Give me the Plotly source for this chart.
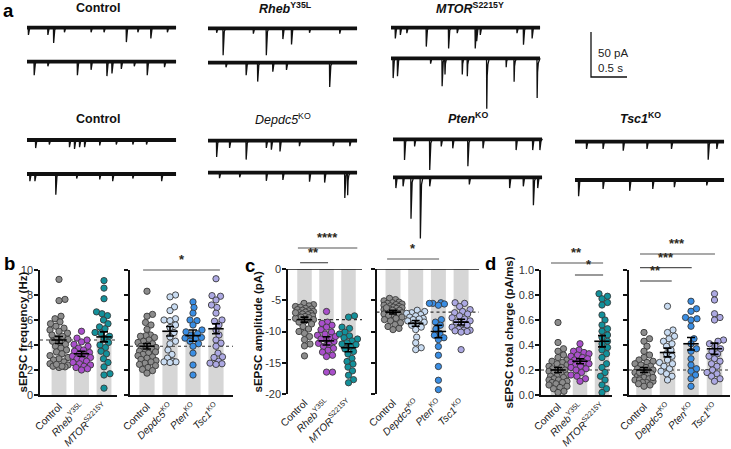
import plotly.graph_objects as go

W, H = 731, 449
FONT = "Liberation Sans, Arial, sans-serif"

# ---------------- DATA ----------------
# panel a: spontaneous events (time in s, amplitude in pA)
ev_ctrl1_top_t = [0.02, 0.29, 0.37, 0.52, 0.89, 1.07, 1.38, 1.54, 1.72, 1.95]
ev_ctrl1_top_a = [8, 8, 17, 5, 5, 5, 16, 5, 12, 5]
ev_ctrl1_bot_t = [0.10, 0.29, 0.70, 0.89, 1.11, 1.18, 1.31, 1.49, 1.67, 1.91]
ev_ctrl1_bot_a = [15, 5, 15, 9, 16, 13, 8, 5, 15, 6]
ev_rheb_top_t = [0.12, 0.21, 0.63, 0.81, 1.04, 1.16, 1.41, 1.83]
ev_rheb_top_a = [5, 30, 6, 30, 12, 18, 5, 6]
ev_rheb_bot_t = [0.25, 0.53, 0.69, 0.90, 1.09, 1.69]
ev_rheb_bot_a = [5, 14, 21, 10, 8, 27]
ev_mtor_top_t = [0.06, 0.13, 0.22, 0.49, 0.80, 0.92, 1.17, 1.19, 1.24, 1.75, 1.84, 1.96]
ev_mtor_top_a = [12, 8, 6, 21, 23, 6, 23, 15, 8, 6, 19, 12]
ev_mtor_bot_t = [0.03, 0.09, 0.55, 0.71, 0.75, 0.99, 1.06, 1.33, 1.60, 1.71, 2.03]
ev_mtor_bot_a = [22, 20, 6, 31, 18, 18, 20, 56, 10, 26, 44]
ev_ctrl2_top_t = [0.12, 0.31, 0.59, 0.66, 0.73, 0.80, 1.01, 1.24, 1.47, 1.66]
ev_ctrl2_top_a = [9, 5, 8, 10, 8, 8, 6, 5, 5, 5]
ev_ctrl2_bot_t = [0.04, 0.11, 0.40, 0.69, 1.01, 1.19, 1.47, 1.87]
ev_ctrl2_bot_a = [8, 8, 23, 5, 6, 8, 5, 8]
ev_depdc5_top_t = [0.12, 0.30, 0.53, 0.81, 0.88, 1.00, 1.27, 1.74, 1.97]
ev_depdc5_top_a = [18, 8, 21, 8, 10, 12, 6, 6, 6]
ev_depdc5_bot_t = [0.16, 0.44, 0.81, 1.04, 1.41, 1.62, 1.90, 1.94]
ev_depdc5_bot_a = [6, 5, 9, 8, 10, 11, 28, 25]
ev_pten_top_t = [0.16, 0.30, 0.51, 0.67, 0.83, 1.04, 1.25, 1.71, 1.94, 2.04]
ev_pten_top_a = [23, 8, 34, 8, 10, 30, 10, 12, 12, 12]
ev_pten_bot_t = [0.04, 0.14, 0.25, 0.38, 0.51, 1.06, 1.62, 1.81, 1.95, 2.01]
ev_pten_bot_a = [12, 10, 46, 68, 10, 8, 12, 10, 31, 12]
ev_tsc1_top_t = [0.16, 0.39, 0.67, 1.00, 1.34, 1.85, 1.97]
ev_tsc1_top_a = [8, 8, 10, 8, 8, 20, 8]
ev_tsc1_bot_t = [0.05, 0.39, 0.76, 1.08, 1.38, 1.83]
ev_tsc1_bot_a = [18, 10, 12, 10, 8, 6]

labels_left = ["Control", "<i>Rheb</i><sup>Y35L</sup>", "<i>MTOR</i><sup>S2215Y</sup>"]
labels_right = ["Control", "<i>Depdc5</i><sup>KO</sup>", "<i>Pten</i><sup>KO</sup>", "<i>Tsc1</i><sup>KO</sup>"]

# panel b: sEPSC frequency (Hz)
freq_ctrl_l = [9.25, 7.65, 7.55, 6.3, 6.1, 5.85, 5.7, 5.5, 5.35, 5.2, 5.1, 4.95, 4.8, 4.7, 4.55, 4.45, 4.3, 4.2,
               4.05, 3.9, 3.75, 3.6, 3.45, 3.3, 3.15, 3.0, 2.9, 2.8, 2.65, 2.5, 2.4, 2.3, 2.25, 2.2, 2.3, 2.45]
freq_rheb = [5.1, 4.55, 4.4, 4.25, 4.05, 3.9, 3.75, 3.6, 3.5, 3.4, 3.3, 3.2, 3.1, 3.0, 2.9, 2.8, 2.7, 2.6, 2.5,
             2.4, 2.3, 2.2, 2.1, 2.0]
freq_mtor = [9.15, 8.55, 7.7, 6.65, 6.5, 6.35, 6.0, 5.7, 5.45, 5.3, 5.0, 4.95, 4.7, 4.55, 4.2, 4.0, 3.8, 3.5, 3.3,
             2.9, 2.6, 2.25, 1.7, 1.6, 0.55]
freq_ctrl_r = [8.3, 6.45, 6.3, 5.8, 5.6, 5.25, 4.8, 4.75, 4.7, 4.6, 4.4, 4.3, 4.2, 4.1, 4.0, 3.9, 3.8, 3.7, 3.6,
               3.5, 3.45, 3.35, 3.25, 3.15, 3.05, 2.95, 2.85, 2.75, 2.65, 2.55, 2.45, 2.35, 2.2, 2.05, 1.95, 1.75]
freq_depdc5 = [8.0, 7.85, 7.05, 6.75, 6.1, 6.0, 5.95, 5.6, 5.4, 5.0, 4.65, 4.3, 4.1, 3.6, 3.25, 2.95, 2.7, 2.65,
               2.6, 2.65]
freq_pten = [7.45, 7.0, 6.55, 6.0, 5.95, 5.6, 5.2, 5.05, 4.9, 4.8, 4.55, 4.5, 4.3, 4.1, 3.9, 3.35, 2.4, 1.6, 4.6]
freq_tsc1 = [9.3, 7.95, 7.9, 7.6, 7.2, 7.0, 6.55, 6.0, 5.9, 5.6, 5.2, 4.8, 4.4, 4.15, 3.9, 3.35, 3.05, 2.7, 2.55,
             2.5, 2.45, 3.0]
freq_mean_l = [4.4, 3.3, 4.65]
freq_sem_l = [0.28, 0.2, 0.4]
freq_mean_r = [3.9, 5.1, 4.75, 5.3]
freq_sem_r = [0.22, 0.38, 0.45, 0.4]

# panel c: sEPSC amplitude (pA)
amp_ctrl_l = [-5.5, -5.7, -5.9, -6.0, -6.1, -6.3, -6.4, -6.5, -6.6, -6.7, -6.8, -6.9, -7.0, -7.1, -7.2, -7.3, -7.4,
              -7.5, -7.6, -7.7, -7.8, -7.9, -8.1, -8.3, -8.5, -8.8, -9.2, -9.6, -10.0, -10.3, -10.8, -11.3, -12.0,
              -12.3, -13.9, -7.0]
amp_rheb = [-6.8, -8.5, -8.7, -9.0, -9.3, -9.7, -10.1, -10.4, -10.6, -11.0, -11.3, -11.6, -11.9, -12.1, -12.4,
            -12.7, -13.0, -13.3, -13.8, -14.0, -16.5, -16.5, -11.2, -10.8]
amp_mtor = [-7.5, -7.7, -9.3, -9.5, -10.1, -10.4, -10.7, -11.0, -11.2, -11.5, -11.8, -12.1, -12.4, -12.8, -13.2,
            -13.6, -14.3, -14.8, -15.2, -15.7, -16.3, -17.0, -17.7, -18.2, -12.0]
amp_ctrl_r = [-4.7, -4.9, -5.1, -5.3, -5.4, -5.5, -5.6, -5.7, -5.8, -5.9, -6.0, -6.1, -6.2, -6.3, -6.4, -6.5, -6.6,
              -6.7, -6.8, -6.9, -7.0, -7.1, -7.2, -7.3, -7.5, -7.7, -7.9, -8.1, -8.3, -8.6, -8.9, -9.2, -9.5, -9.7,
              -6.2, -6.6]
amp_depdc5 = [-6.6, -6.8, -7.0, -7.1, -7.3, -7.5, -7.7, -7.9, -8.1, -8.3, -8.5, -8.8, -9.0, -9.3, -9.7, -10.9,
              -11.8, -12.6, -12.9, -8.0]
amp_pten = [-5.4, -5.5, -5.5, -5.6, -5.8, -8.1, -8.5, -9.0, -9.6, -10.3, -10.6, -11.0, -11.3, -12.4, -13.8, -15.6,
            -17.8, -19.3]
amp_tsc1 = [-5.4, -5.5, -6.0, -6.5, -6.8, -7.0, -7.2, -7.5, -7.8, -8.0, -8.3, -8.5, -8.8, -9.0, -9.3, -9.6, -9.8,
            -9.8, -9.9, -10.0, -10.1, -12.9]
amp_mean_l = [-8.1, -11.5, -12.6]
amp_sem_l = [0.4, 0.65, 0.65]
amp_mean_r = [-6.9, -8.7, -10.0, -8.5]
amp_sem_r = [0.3, 0.45, 1.0, 0.45]

# panel d: sEPSC total charge (pA/ms)
chg_ctrl_l = [0.58, 0.42, 0.37, 0.35, 0.32, 0.30, 0.28, 0.27, 0.26, 0.25, 0.24, 0.23, 0.22, 0.21, 0.20, 0.19, 0.18,
              0.17, 0.16, 0.15, 0.15, 0.14, 0.13, 0.12, 0.12, 0.11, 0.10, 0.10, 0.09, 0.08, 0.07, 0.06, 0.05, 0.03,
              0.02, 0.20]
chg_rheb = [0.41, 0.36, 0.35, 0.34, 0.33, 0.32, 0.31, 0.30, 0.29, 0.28, 0.27, 0.26, 0.26, 0.25, 0.24, 0.23, 0.22,
            0.21, 0.20, 0.18, 0.16, 0.15, 0.13, 0.11]
chg_mtor = [0.81, 0.79, 0.77, 0.74, 0.72, 0.64, 0.60, 0.56, 0.53, 0.51, 0.48, 0.46, 0.43, 0.41, 0.38, 0.36, 0.33,
            0.30, 0.25, 0.22, 0.18, 0.15, 0.12, 0.08, 0.05, 0.02]
chg_ctrl_r = [0.50, 0.45, 0.43, 0.39, 0.35, 0.32, 0.30, 0.28, 0.27, 0.26, 0.25, 0.24, 0.23, 0.22, 0.21, 0.20, 0.20,
              0.19, 0.18, 0.17, 0.17, 0.16, 0.15, 0.15, 0.14, 0.13, 0.12, 0.12, 0.11, 0.10, 0.10, 0.09, 0.08, 0.07,
              0.18, 0.14]
chg_depdc5 = [0.71, 0.52, 0.50, 0.47, 0.45, 0.43, 0.41, 0.39, 0.36, 0.33, 0.31, 0.28, 0.26, 0.23, 0.21, 0.19, 0.17,
              0.15, 0.12, 0.25]
chg_pten = [0.75, 0.69, 0.67, 0.62, 0.61, 0.60, 0.55, 0.45, 0.41, 0.37, 0.35, 0.29, 0.24, 0.21, 0.19, 0.16, 0.13,
            0.07]
chg_tsc1 = [0.81, 0.76, 0.65, 0.62, 0.60, 0.44, 0.43, 0.41, 0.39, 0.37, 0.35, 0.33, 0.31, 0.29, 0.27, 0.25, 0.23,
            0.20, 0.18, 0.17, 0.15, 0.13, 0.11]
chg_mean_l = [0.20, 0.27, 0.43]
chg_sem_l = [0.02, 0.02, 0.045]
chg_mean_r = [0.20, 0.34, 0.41, 0.37]
chg_sem_r = [0.02, 0.035, 0.05, 0.045]

# ---------------- STYLE ----------------
C_CTRL = "#8c8c8c"
C_RHEB = "#a94fcb"
C_MTOR = "#13919b"
C_DEPDC5 = "#c9dcf2"
C_PTEN = "#3a8ee4"
C_TSC1 = "#ada9e3"
BAR = "#d6d6d6"
colors_left = [C_CTRL, C_RHEB, C_MTOR]
colors_right = [C_CTRL, C_DEPDC5, C_PTEN, C_TSC1]


def px(p):
    return p / W


def py(p):
    return 1 - p / H


fig = go.Figure()
layout = dict(template="none", width=W, height=H, margin=dict(l=0, r=0, t=0, b=0, pad=0, autoexpand=False),
              paper_bgcolor="white", plot_bgcolor="rgba(0,0,0,0)", showlegend=False,
              font=dict(family=FONT, color="#222"))
annotations = []
shapes = []

# ---------------- PANEL a ----------------
PXS = 72.0   # px per second
PXA = 0.9    # px per pA
A_BOTTOM = 245
layout["xaxis"] = dict(domain=[0, 1], range=[0, W / PXS], visible=False, fixedrange=True, automargin=False)
layout["yaxis"] = dict(domain=[py(A_BOTTOM), 1], range=[-A_BOTTOM / PXA, 0], visible=False, fixedrange=True,
                       automargin=False)


def trace_line(x0px, base_px, times, amps, dur=2.07):
    t0 = x0px / PXS
    b = -base_px / PXA
    # noisy baseline band
    fig.add_trace(go.Scatter(x=[t0, t0 + dur], y=[b, b], mode="lines", line=dict(color="#111", width=3.8),
                             xaxis="x", yaxis="y", hoverinfo="skip"))
    xs, ys = [t0], [b]
    for t, a in sorted(zip(times, amps)):
        xs += [t0 + t - 0.003, t0 + t, t0 + t + 0.006, t0 + t + 0.016, t0 + t + 0.035]
        ys += [b, b - a, b - a * 0.35, b - a * 0.12, b]
    xs.append(t0 + dur)
    ys.append(b)
    fig.add_trace(go.Scatter(x=xs, y=ys, mode="lines", line=dict(color="#111", width=1.3),
                             xaxis="x", yaxis="y", hoverinfo="skip"))


trace_line(27, 27.7, ev_ctrl1_top_t, ev_ctrl1_top_a)
trace_line(27, 61.7, ev_ctrl1_bot_t, ev_ctrl1_bot_a)
trace_line(208, 28.3, ev_rheb_top_t, ev_rheb_top_a)
trace_line(208, 62.7, ev_rheb_bot_t, ev_rheb_bot_a)
trace_line(391, 27.7, ev_mtor_top_t, ev_mtor_top_a)
trace_line(391, 58.3, ev_mtor_bot_t, ev_mtor_bot_a)
trace_line(27, 140, ev_ctrl2_top_t, ev_ctrl2_top_a)
trace_line(27, 174, ev_ctrl2_bot_t, ev_ctrl2_bot_a)
trace_line(208, 140.7, ev_depdc5_top_t, ev_depdc5_top_a)
trace_line(208, 172.7, ev_depdc5_bot_t, ev_depdc5_bot_a)
trace_line(393, 139.3, ev_pten_top_t, ev_pten_top_a)
trace_line(393, 177.3, ev_pten_bot_t, ev_pten_bot_a)
trace_line(575, 141.7, ev_tsc1_top_t, ev_tsc1_top_a)
trace_line(575, 180, ev_tsc1_bot_t, ev_tsc1_bot_a)

# scale bar: 50 pA, 0.5 s
SB_X, SB_Y = 591 / PXS, -77 / PXA
fig.add_trace(go.Scatter(x=[SB_X, SB_X, SB_X + 0.5], y=[SB_Y + 50, SB_Y, SB_Y], mode="lines",
                         line=dict(color="#111", width=1.3), xaxis="x", yaxis="y", hoverinfo="skip"))
annotations += [
    dict(text="50 pA", x=px(596), y=py(53), xref="paper", yref="paper", xanchor="left", yanchor="middle",
         showarrow=False, font=dict(size=11.5)),
    dict(text="0.5 s", x=px(596), y=py(68), xref="paper", yref="paper", xanchor="left", yanchor="middle",
         showarrow=False, font=dict(size=11.5)),
]

titles_a = [("<b>Control</b>", 98, 8.5), ("<b><i>Rheb</i><sup>Y35L</sup></b>", 285, 8.5),
            ("<b><i>MTOR</i><sup>S2215Y</sup></b>", 470, 8.5), ("<b>Control</b>", 98, 119),
            ("<i>Depdc5</i><sup>KO</sup>", 283, 119), ("<b><i>Pten</i><sup>KO</sup></b>", 468, 118),
            ("<b><i>Tsc1</i><sup>KO</sup></b>", 640, 118)]
for txt, xx, yy in titles_a:
    annotations.append(dict(text=txt, x=px(xx), y=py(yy), xref="paper", yref="paper", xanchor="center",
                            yanchor="middle", showarrow=False, font=dict(size=12.5, color="#111")))

for letter, xx, yy in [("a", 1, 10.5), ("b", 2, 263), ("c", 243, 265), ("d", 483, 263)]:
    annotations.append(dict(text="<b>%s</b>" % letter, x=px(xx), y=py(yy), xref="paper", yref="paper",
                            xanchor="left", yanchor="middle", showarrow=False, font=dict(size=18.5, color="#000")))


# ---------------- bar / swarm panels ----------------
def swarm(vals, xs, ys, d=6.2, maxoff=9):
    order = sorted(range(len(vals)), key=lambda i: vals[i])
    cands = [0.0]
    k = 1
    while k * 0.5 <= maxoff:
        cands += [k * 0.5, -k * 0.5]
        k += 1
    placed = []
    offs = [0.0] * len(vals)
    for i in order:
        yv = vals[i] * ys
        best = None
        for c in cands:
            if all((c - a) ** 2 + (yv - b) ** 2 >= (d * 0.92) ** 2 for a, b in placed):
                best = c
                break
        if best is None:
            best = max(cands, key=lambda c: min((c - a) ** 2 + (yv - b) ** 2 for a, b in placed))
        placed.append((best, yv))
        offs[i] = best / xs
    return offs


def panel(n, x0, c0, sp, x1, ytop, ybot, yr, labels, colors, groups, means, sems, tickvals, ticktext,
          show_labels, xline_at_top=False, ytitle=None, ytitle_x=None):
    xa, ya = "x%d" % n, "y%d" % n
    r0, r1 = -(c0 - x0) / sp, (x1 - c0) / sp
    layout["xaxis%d" % n] = dict(domain=[px(x0), px(x1)], range=[r0, r1], anchor=ya,
                                 tickvals=list(range(len(labels))), ticktext=labels, tickangle=-45,
                                 showline=not xline_at_top, linecolor="#111", linewidth=1.5, ticks="",
                                 showgrid=False, zeroline=False, automargin=False,
                                 tickfont=dict(size=10.3, color="#222"), fixedrange=True)
    layout["yaxis%d" % n] = dict(domain=[py(ybot), py(ytop)], range=yr, anchor=xa, showline=True,
                                 linecolor="#111", linewidth=1.5, ticks="outside", ticklen=4, tickwidth=1.5,
                                 tickcolor="#111", tickvals=tickvals, ticktext=ticktext, automargin=False,
                                 showticklabels=show_labels, showgrid=False, zeroline=False,
                                 ticklabelstandoff=-1,
                                 tickfont=dict(size=11, color="#333"), fixedrange=True)
    if xline_at_top:
        shapes.append(dict(type="line", xref="%s domain" % xa, yref=ya, x0=0, x1=1, y0=0, y1=0,
                           line=dict(color="#111", width=1.5)))
    cats = list(range(len(labels)))
    fig.add_trace(go.Bar(x=cats, y=means, width=0.66, marker=dict(color=BAR, line=dict(width=0)),
                         xaxis=xa, yaxis=ya, hoverinfo="skip"))
    # control mean reference line
    fig.add_trace(go.Scatter(x=[r0, r1], y=[means[0], means[0]], mode="lines",
                             line=dict(color="#333", width=1.2, dash="dot"), xaxis=xa, yaxis=ya, hoverinfo="skip"))
    ys = (ybot - ytop) / (yr[1] - yr[0])
    for i, (vals, col) in enumerate(zip(groups, colors)):
        offs = swarm(vals, sp, ys)
        fig.add_trace(go.Scatter(x=[i + o for o in offs], y=vals, mode="markers",
                                 marker=dict(size=6.3, color=col, line=dict(color="#3a3a3a", width=0.9)),
                                 xaxis=xa, yaxis=ya, hoverinfo="skip"))
    fig.add_trace(go.Scatter(x=cats, y=means, mode="markers",
                             marker=dict(symbol="line-ew", size=11, line=dict(color="#000", width=1.6)),
                             error_y=dict(type="data", array=sems, color="#000", thickness=1.6, width=4),
                             xaxis=xa, yaxis=ya, hoverinfo="skip"))
    if ytitle:
        annotations.append(dict(text="<b>%s</b>" % ytitle, x=px(ytitle_x), y=py((ytop + ybot) / 2), xref="paper",
                                yref="paper", textangle=-90, xanchor="center", yanchor="middle", showarrow=False,
                                font=dict(size=11.5, color="#111")))


b_ticks = [0, 2, 4, 6, 8, 10]
panel(2, 40, 59, 22.5, 117, 270, 395, [0, 10], labels_left, colors_left, [freq_ctrl_l, freq_rheb, freq_mtor],
      freq_mean_l, freq_sem_l, b_ticks, [str(v) for v in b_ticks], True,
      ytitle="sEPSC frequency (Hz)", ytitle_x=22)
panel(3, 130, 147, 23, 233, 270, 395, [0, 10], labels_right, colors_right,
      [freq_ctrl_r, freq_depdc5, freq_pten, freq_tsc1], freq_mean_r, freq_sem_r, b_ticks,
      [str(v) for v in b_ticks], False)

c_ticks = [0, -5, -10, -15, -20]
panel(4, 288, 304.5, 22, 362, 269, 394, [-20, 0], labels_left, colors_left, [amp_ctrl_l, amp_rheb, amp_mtor],
      amp_mean_l, amp_sem_l, c_ticks, [str(v) for v in c_ticks], True, xline_at_top=True,
      ytitle="sEPSC amplitude (pA)", ytitle_x=257)
panel(5, 376.5, 393, 22.7, 479, 269, 394, [-20, 0], labels_right, colors_right,
      [amp_ctrl_r, amp_depdc5, amp_pten, amp_tsc1], amp_mean_r, amp_sem_r, c_ticks,
      [str(v) for v in c_ticks], False, xline_at_top=True)

d_ticks = [0, 0.2, 0.4, 0.6, 0.8, 1.0]
panel(6, 541, 558, 22, 612, 270, 395, [0, 1], labels_left, colors_left, [chg_ctrl_l, chg_rheb, chg_mtor],
      chg_mean_l, chg_sem_l, d_ticks, ["%.1f" % v for v in d_ticks], True,
      ytitle="sEPSC total charge (pA/ms)", ytitle_x=508)
panel(7, 629, 644, 23.5, 730, 270, 395, [0, 1], labels_right, colors_right,
      [chg_ctrl_r, chg_depdc5, chg_pten, chg_tsc1], chg_mean_r, chg_sem_r, d_ticks,
      ["%.1f" % v for v in d_ticks], False)


# ---------------- significance brackets ----------------
def sig(n, xa_, xb_, ypx, stars, xstar):
    shapes.append(dict(type="line", xref="x%d" % n, yref="paper", x0=xa_, x1=xb_, y0=py(ypx), y1=py(ypx),
                       line=dict(color="#555", width=1.2)))
    annotations.append(dict(text="<b>%s</b>" % stars, xref="x%d" % n, yref="paper", x=xstar, y=py(ypx - 1),
                            xanchor="center", yanchor="bottom", showarrow=False,
                            font=dict(size=13, color="#2e2a20")))


sig(3, -0.17, 3.17, 270, "*", 1.5)
sig(4, -0.2, 1.07, 262.7, "**", 0.43)
sig(4, -0.3, 2.4, 248, "****", 1.05)
sig(5, -0.26, 2.03, 259, "*", 0.88)
sig(6, -0.32, 2.05, 263, "**", 0.86)
sig(6, 0.77, 2.05, 275, "*", 1.41)
sig(7, -0.17, 1.18, 281, "**", 0.5)
sig(7, -0.17, 2.03, 267.7, "***", 0.94)
sig(7, -0.17, 3.02, 254, "***", 1.4)

layout["annotations"] = annotations
layout["shapes"] = shapes
fig.update_layout(**layout)
fig.write_html("out.html", config={"displayModeBar": False},
               post_script="document.body.style.margin='0px';document.body.style.overflow='hidden';")
